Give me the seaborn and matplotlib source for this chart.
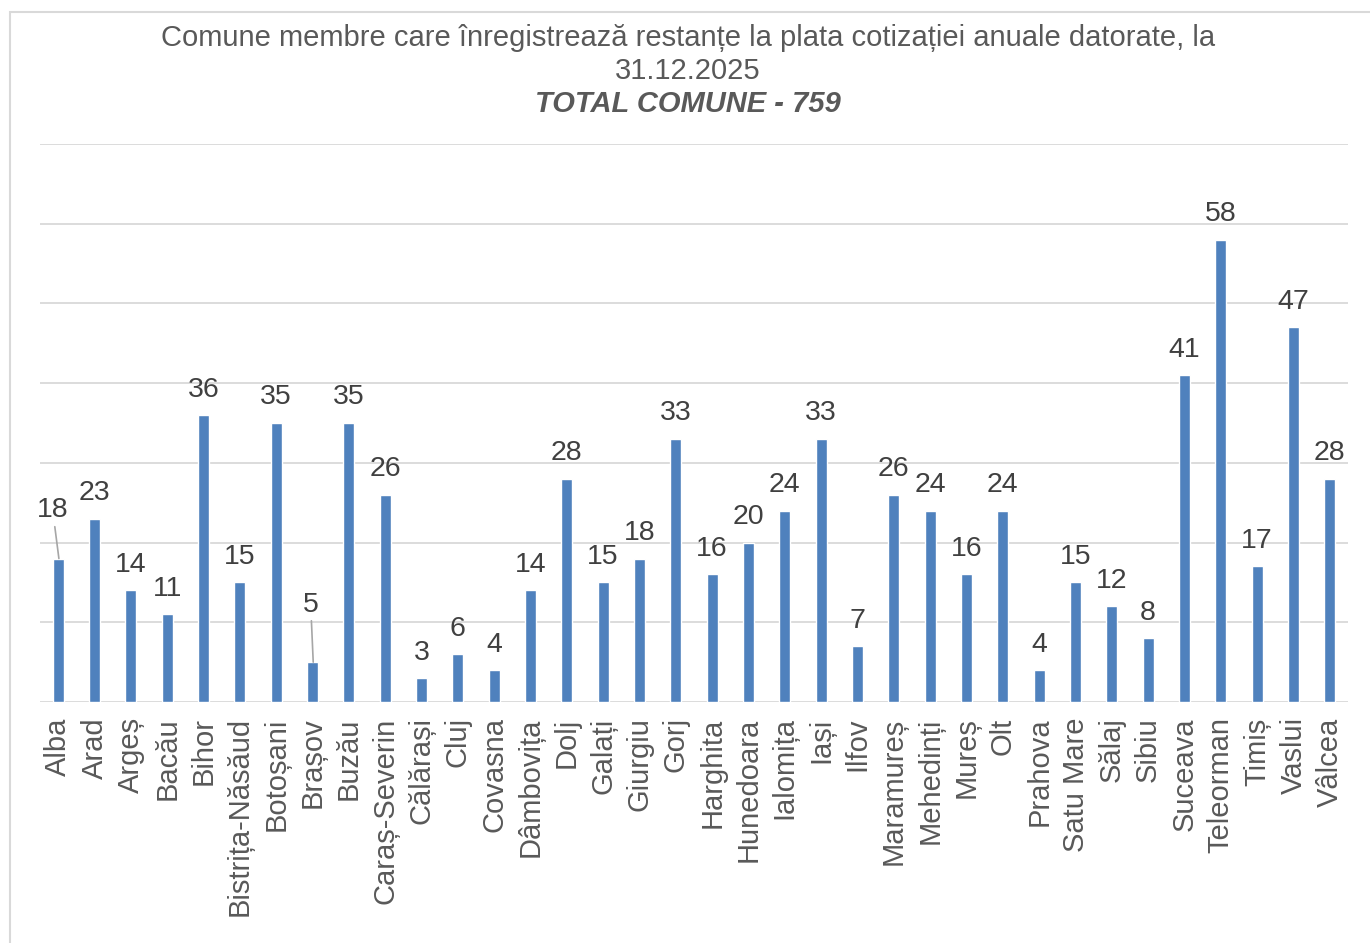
import matplotlib
matplotlib.use("Agg")
import matplotlib.pyplot as plt
from matplotlib.patches import Rectangle
import seaborn as sns
import pandas as pd

# -----------------------------
# Data
# -----------------------------
judete = ["Alba", "Arad", "Argeș", "Bacău", "Bihor", "Bistrița-Năsăud", "Botoșani",
          "Brașov", "Buzău", "Caraș-Severin", "Călărași", "Cluj", "Covasna",
          "Dâmbovița", "Dolj", "Galați", "Giurgiu", "Gorj", "Harghita", "Hunedoara",
          "Ialomița", "Iași", "Ilfov", "Maramureș", "Mehedinți", "Mureș", "Olt",
          "Prahova", "Satu Mare", "Sălaj", "Sibiu", "Suceava", "Teleorman", "Timiș",
          "Vaslui", "Vâlcea"]
comune = [18, 23, 14, 11, 36, 15, 35, 5, 35, 26, 3, 6, 4, 14, 28, 15, 18, 33, 16, 20,
          24, 33, 7, 26, 24, 16, 24, 4, 15, 12, 8, 41, 58, 17, 47, 28]

titlu_1 = "Comune membre care înregistrează restanțe la plata cotizației anuale datorate, la"
titlu_2 = "31.12.2025"
subtitlu = "TOTAL COMUNE - 759"

df = pd.DataFrame({"Judet": judete, "Comune": comune})

# -----------------------------
# Plot
# -----------------------------
sns.set_style("white")
plt.rcParams['font.family'] = ['Liberation Sans', 'DejaVu Sans']

fig = plt.figure(figsize=(13.7, 9.43), dpi=100)
ax = fig.add_axes([40/1370, 1 - 702/943, 1308/1370, 558/943])

sns.barplot(data=df, x="Judet", y="Comune", color="#4F81BD", width=0.3,
            saturation=1, ax=ax)

ax.set_ylim(0, 70)
ax.set_xlim(-0.5, len(judete) - 0.5)
ax.set_yticks(range(0, 71, 10))
ax.set_yticklabels([])
ax.yaxis.grid(True, color="#D9D9D9", linewidth=1.3)
ax.set_axisbelow(True)
for s in ax.spines.values():
    s.set_visible(False)
ax.set_xlabel("")
ax.set_ylabel("")
ax.tick_params(axis="both", length=0)
ax.tick_params(axis="x", pad=11, labelsize=21, labelcolor="#595959")
plt.setp(ax.get_xticklabels(), rotation=90)

# data labels (two of them are moved out with a leader line)
lbl = dict(ha="center", va="bottom", fontsize=20.5, color="#404040")
for i, v in enumerate(comune):
    if judete[i] == "Alba":
        ax.annotate(str(v), xy=(i + 0.02, v), xytext=(i - 0.15, v + 4.4), **lbl,
                    arrowprops=dict(arrowstyle="-", color="#A6A6A6", lw=1.2,
                                    shrinkA=0, shrinkB=0))
    elif judete[i] == "Brașov":
        ax.annotate(str(v), xy=(i + 0.02, v), xytext=(i - 0.05, v + 5.6), **lbl,
                    arrowprops=dict(arrowstyle="-", color="#A6A6A6", lw=1.2,
                                    shrinkA=0, shrinkB=0))
    else:
        ax.annotate(str(v), xy=(i, v), xytext=(0, 9), textcoords="offset points", **lbl)

fig.text(688/1370, 1 - 46/943, titlu_1, ha="center", va="baseline", fontsize=21,
         color="#595959")
fig.text(688/1370, 1 - 79/943, titlu_2, ha="center", va="baseline", fontsize=21,
         color="#595959")
fig.text(688/1370, 1 - 112/943, subtitlu, ha="center", va="baseline", fontsize=21,
         color="#595959", fontweight="bold", fontstyle="italic")

# chart area border
fig.patches.append(Rectangle((10/1370, -0.05), 1.1, 1 - 12/943 + 0.05,
                             transform=fig.transFigure, fill=False,
                             edgecolor="#D9D9D9", linewidth=1.5))

fig.savefig("out.png", dpi=100)
